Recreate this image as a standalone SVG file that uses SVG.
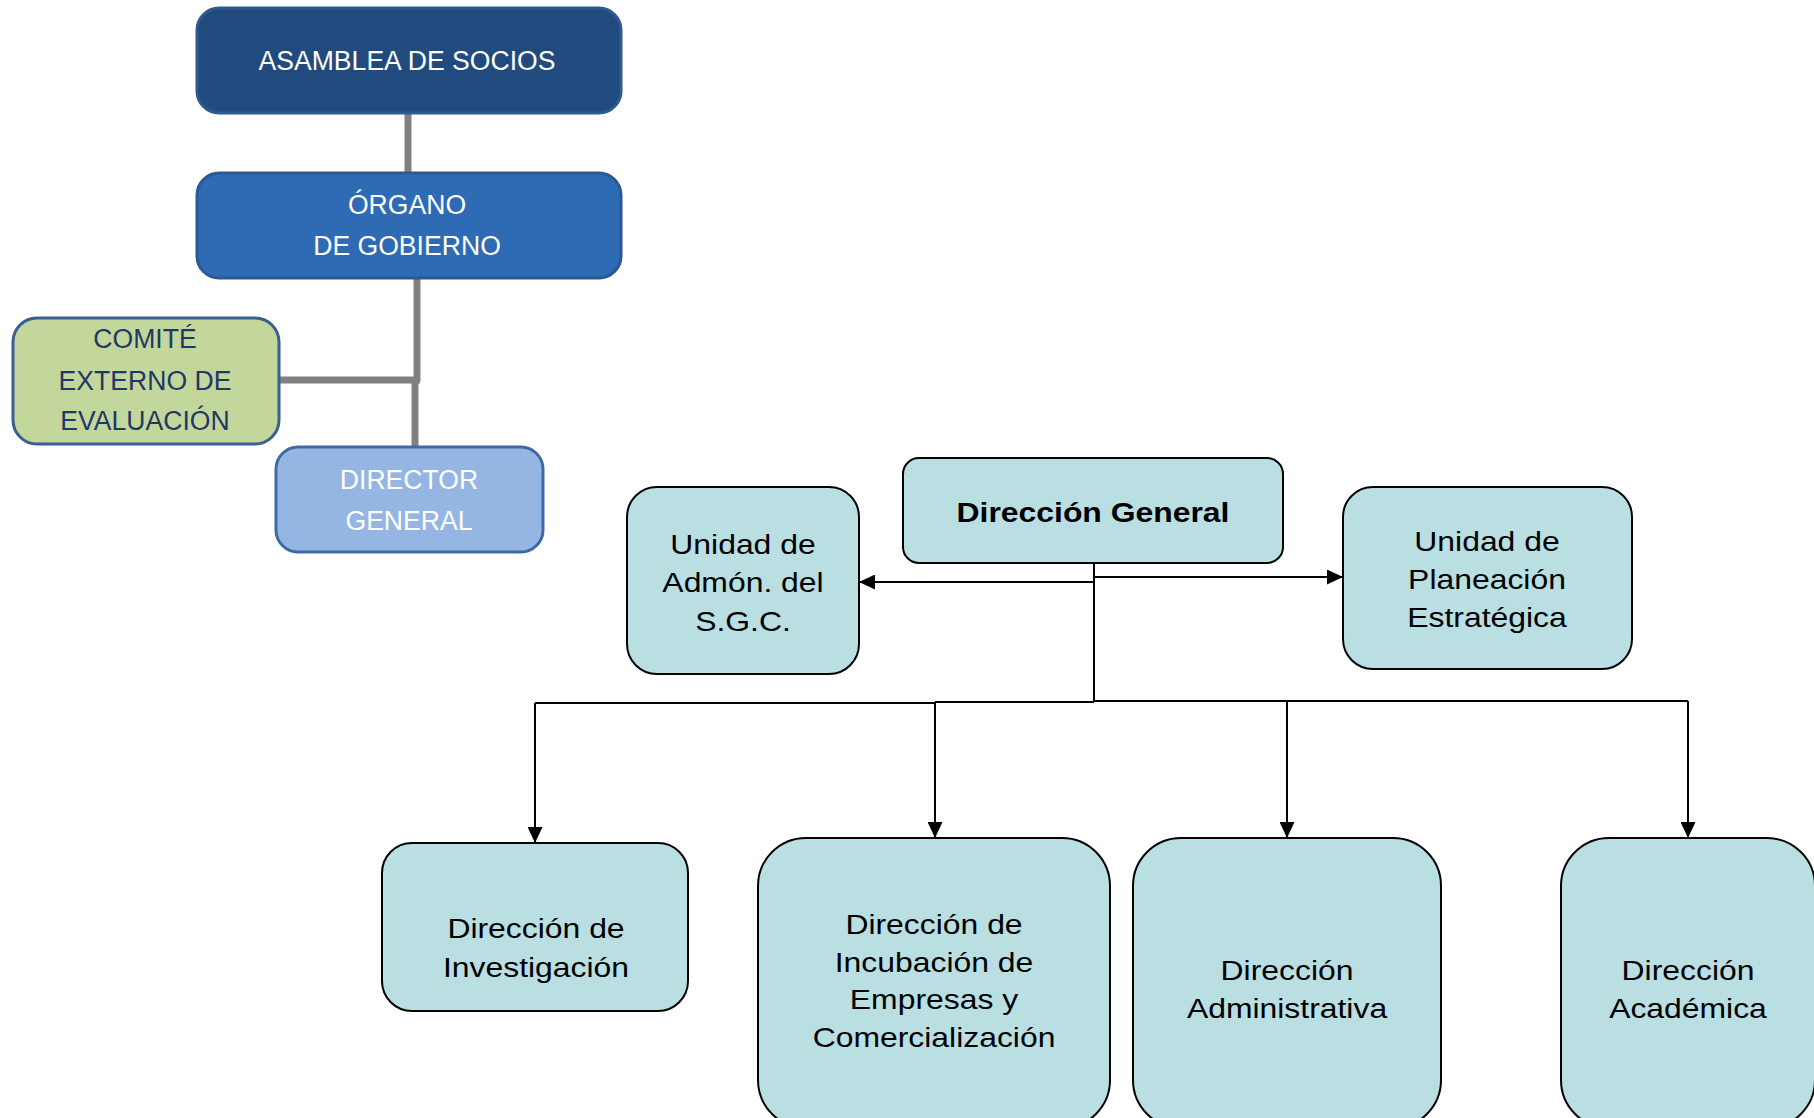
<svg xmlns="http://www.w3.org/2000/svg" width="1814" height="1118" viewBox="0 0 1814 1118">
<style>
  .top { font-family: "Liberation Sans", Arial, sans-serif; font-size: 28px; text-anchor: middle; }
  .wt { fill: #ffffff; }
  .nv { fill: #1F3864; }
  .gl { stroke: #808080; stroke-width: 7; fill: none; }
  .bx { fill: #B9DFE3; stroke: #000000; stroke-width: 2; }
  .bt { font-family: "Liberation Sans", Arial, sans-serif; font-size: 27.5px; text-anchor: middle; fill: #000000; }
  .bd { font-weight: bold; }
  .cn { stroke: #000000; stroke-width: 2; fill: none; }
</style>
<defs>
  <marker id="ah" markerUnits="userSpaceOnUse" markerWidth="16" markerHeight="15" refX="16" refY="7.5" orient="auto" viewBox="0 0 16 15">
    <path d="M0,0 L16,7.5 L0,15 Z" fill="#000000"/>
  </marker>
</defs>
<rect x="0" y="0" width="1814" height="1118" fill="#ffffff"/>

<g id="top-connectors">
  <path class="gl" d="M408,113 V174"/>
  <path class="gl" d="M417,277 V381"/>
  <path class="gl" d="M415,378 V448"/>
  <path class="gl" d="M277,380 H420"/>
</g>

<g id="asamblea">
  <rect x="197" y="8" width="424" height="105" rx="22" fill="#214A7E" stroke="#2F5A90" stroke-width="3"/>
  <text class="top wt" transform="translate(407 0) scale(0.95 1)" x="0" y="70">ASAMBLEA DE SOCIOS</text>
</g>
<g id="organo">
  <rect x="197" y="173" width="424" height="105" rx="22" fill="#2E6BB4" stroke="#2A5A94" stroke-width="3"/>
  <text class="top wt" transform="translate(407 0) scale(0.95 1)"><tspan x="0" y="214">ÓRGANO</tspan><tspan x="0" y="255">DE GOBIERNO</tspan></text>
</g>
<g id="comite">
  <rect x="13" y="318" width="266" height="126" rx="24" fill="#C3D69B" stroke="#3B5F91" stroke-width="3"/>
  <text class="top nv" transform="translate(145 0) scale(0.95 1)"><tspan x="0" y="348">COMITÉ</tspan><tspan x="0" y="390">EXTERNO DE</tspan><tspan x="0" y="430">EVALUACIÓN</tspan></text>
</g>
<g id="director">
  <rect x="276" y="447" width="267" height="105" rx="22" fill="#95B6E2" stroke="#3D6AA5" stroke-width="3"/>
  <text class="top wt" transform="translate(409 0) scale(0.95 1)"><tspan x="0" y="489">DIRECTOR</tspan><tspan x="0" y="530">GENERAL</tspan></text>
</g>

<g id="connectors">
  <path class="cn" d="M1094,563 V702"/>
  <path class="cn" d="M1094,582 H859" marker-end="url(#ah)"/>
  <path class="cn" d="M1094,577 H1343" marker-end="url(#ah)"/>
  <path class="cn" d="M535,703 H935"/>
  <path class="cn" d="M935,702 H1094" stroke-width="4"/>
  <path class="cn" d="M1094,701 H1688"/>
  <path class="cn" d="M535,703 V843" marker-end="url(#ah)"/>
  <path class="cn" d="M935,702 V838" marker-end="url(#ah)"/>
  <path class="cn" d="M1287,701 V838" marker-end="url(#ah)"/>
  <path class="cn" d="M1688,701 V838" marker-end="url(#ah)"/>
</g>

<g id="direccion-general">
  <rect class="bx" x="903" y="458" width="380" height="105" rx="16"/>
  <text class="bt bd" transform="translate(1093 0) scale(1.16 1)" x="0" y="522">Dirección General</text>
</g>
<g id="unidad-sgc">
  <rect class="bx" x="627" y="487" width="232" height="187" rx="30"/>
  <text class="bt" transform="translate(743 0) scale(1.16 1)"><tspan x="0" y="554">Unidad de</tspan><tspan x="0" y="592">Admón. del</tspan><tspan x="0" y="631">S.G.C.</tspan></text>
</g>
<g id="unidad-planeacion">
  <rect class="bx" x="1343" y="487" width="289" height="182" rx="30"/>
  <text class="bt" transform="translate(1487 0) scale(1.16 1)"><tspan x="0" y="551">Unidad de</tspan><tspan x="0" y="589">Planeación</tspan><tspan x="0" y="627">Estratégica</tspan></text>
</g>
<g id="direccion-investigacion">
  <rect class="bx" x="382" y="843" width="306" height="168" rx="30"/>
  <text class="bt" transform="translate(536 0) scale(1.16 1)"><tspan x="0" y="938">Dirección de</tspan><tspan x="0" y="977">Investigación</tspan></text>
</g>
<g id="direccion-incubacion">
  <rect class="bx" x="758" y="838" width="352" height="290" rx="48"/>
  <text class="bt" transform="translate(934 0) scale(1.16 1)"><tspan x="0" y="934">Dirección de</tspan><tspan x="0" y="972">Incubación de</tspan><tspan x="0" y="1009">Empresas y</tspan><tspan x="0" y="1047">Comercialización</tspan></text>
</g>
<g id="direccion-administrativa">
  <rect class="bx" x="1133" y="838" width="308" height="290" rx="48"/>
  <text class="bt" transform="translate(1287 0) scale(1.16 1)"><tspan x="0" y="980">Dirección</tspan><tspan x="0" y="1018">Administrativa</tspan></text>
</g>
<g id="direccion-academica">
  <rect class="bx" x="1561" y="838" width="254" height="290" rx="48"/>
  <text class="bt" transform="translate(1688 0) scale(1.16 1)"><tspan x="0" y="980">Dirección</tspan><tspan x="0" y="1018">Académica</tspan></text>
</g>
</svg>
